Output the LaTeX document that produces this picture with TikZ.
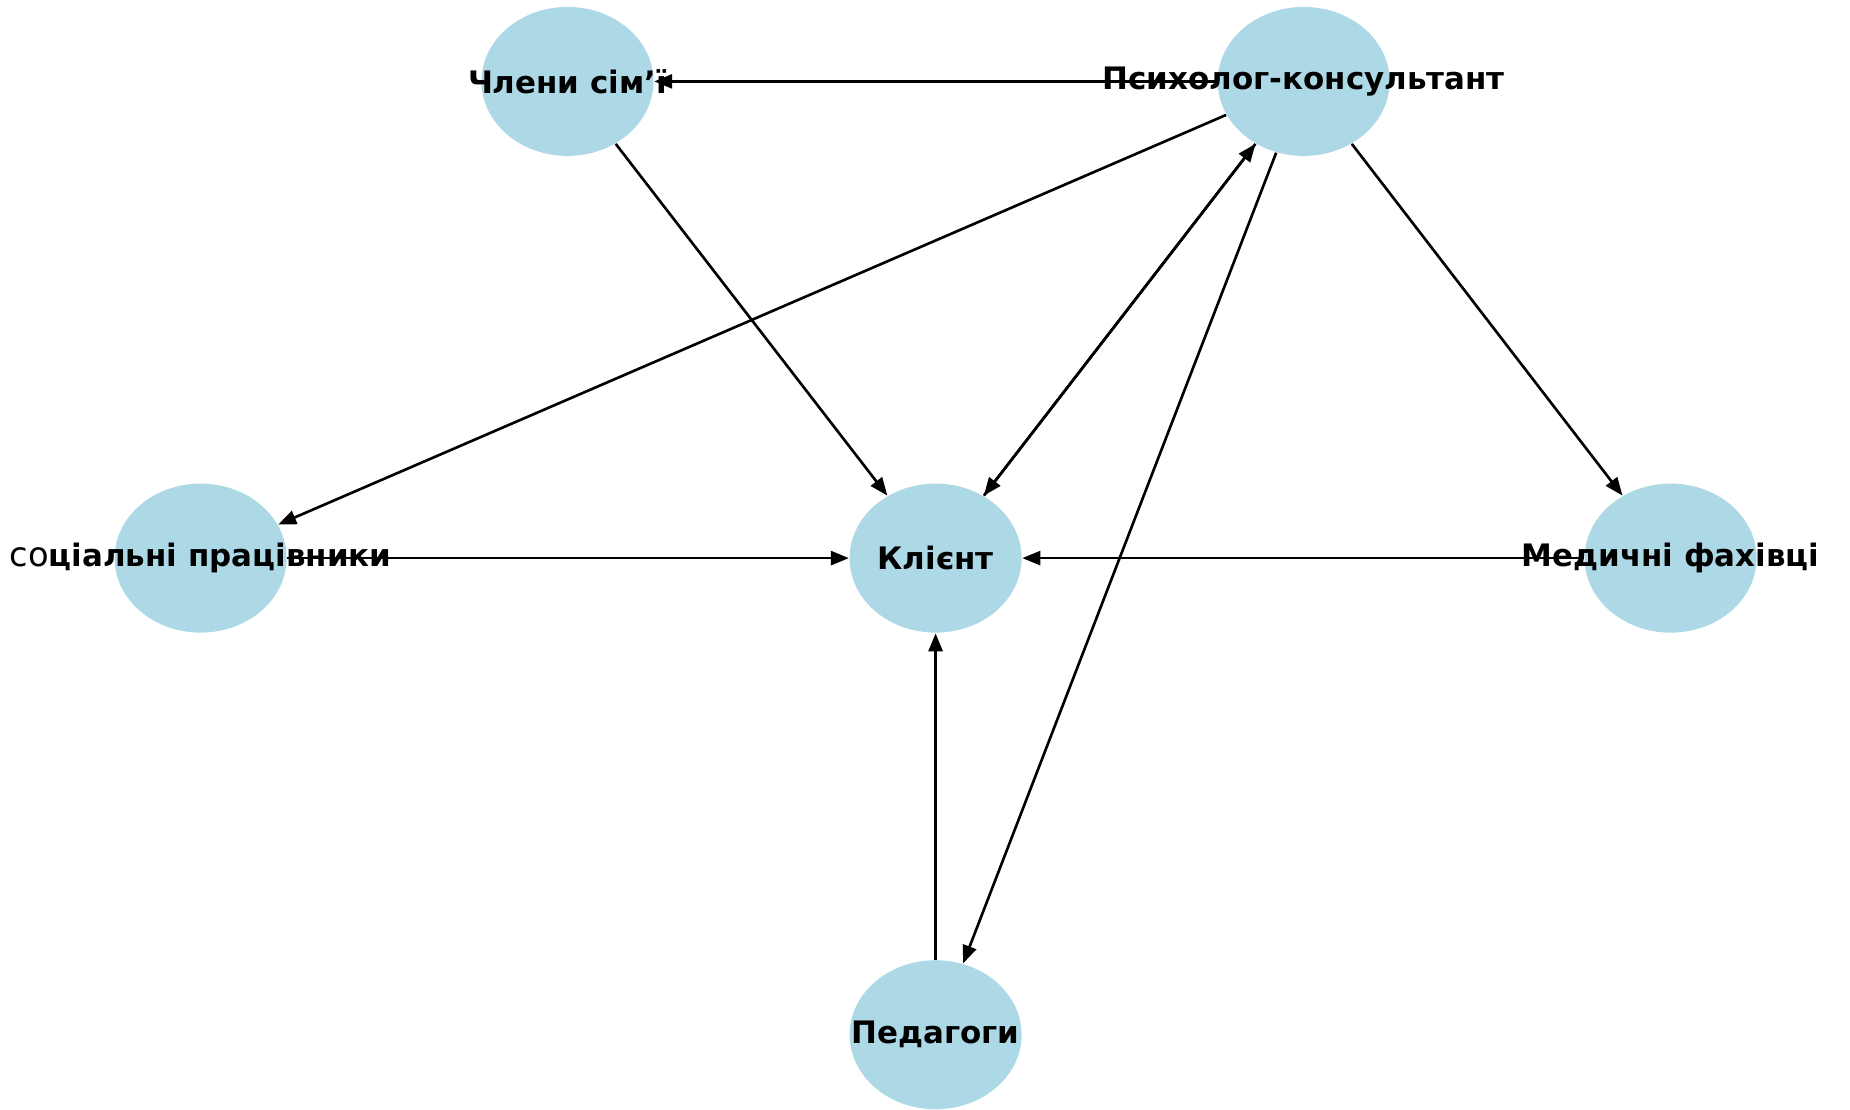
\documentclass[tikz,border=0pt]{standalone}
\usepackage{fontspec}
\setmainfont{DejaVu Sans}
\usetikzlibrary{arrows.meta,shapes.geometric}
\definecolor{lb}{HTML}{ADD8E6}
\begin{document}
\begin{tikzpicture}[x=0.1mm,y=-0.1mm,
 nd/.style={ellipse, fill=lb, minimum width=17.2mm, minimum height=14.9mm, inner sep=0pt},
 lbl/.style={font=\fontsize{8.8}{10}\selectfont\bfseries, inner sep=0pt},
 edge/.style={-{Triangle[length=1.8mm,width=1.4mm]}, line width=0.75pt, black}]
\useasboundingbox (0,0) rectangle (1850,1109);
\node[nd] (chl) at (567.5,81.4) {};
\node[nd] (psy) at (1303.7,81.4) {};
\node[nd] (soc) at (200.6,558.1) {};
\node[nd] (kli) at (935.6,558.1) {};
\node[nd] (med) at (1670.6,558.1) {};
\node[nd] (ped) at (935.6,1034.7) {};
\draw[edge] (psy) -- (chl);
\draw[edge] (chl) -- (kli);
\draw[edge] (psy) -- (soc);
\draw[edge] (psy) -- (kli);
\draw[edge] (kli) -- (psy);
\draw[edge] (psy) -- (ped);
\draw[edge] (psy) -- (med);
\draw[edge] (soc) -- (kli);
\draw[edge] (med) -- (kli);
\draw[edge] (ped) -- (kli);
\node[lbl] (tchl) at (chl.center) {Члени сім’ї};
\node[lbl] (tpsy) at (psy.center) {Психолог-консультант};
\node[lbl] (tsoc) at (soc.center) {{\mdseries\fontsize{9.6}{10}\selectfont со}ціальні працівники};
\node[lbl] (tkli) at (kli.center) {Клієнт};
\node[lbl] (tmed) at (med.center) {Медичні фахівці};
\node[lbl] (tped) at (ped.center) {Педагоги};
\end{tikzpicture}
\end{document}
